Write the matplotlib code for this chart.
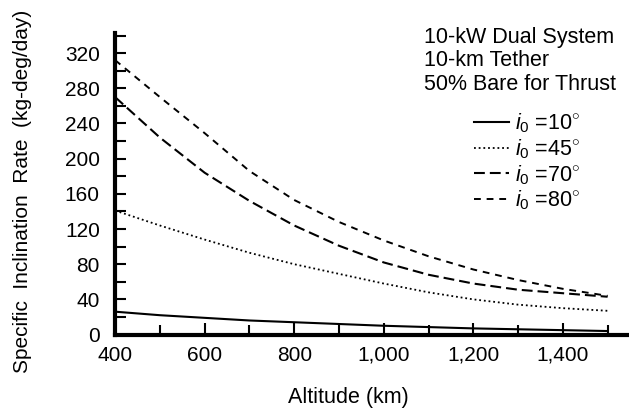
import matplotlib
matplotlib.use("Agg")
import matplotlib.pyplot as plt
from matplotlib.ticker import MultipleLocator

plt.rcParams['font.family'] = ['Liberation Sans', 'DejaVu Sans']
plt.rcParams['mathtext.fontset'] = 'custom'
plt.rcParams['mathtext.rm'] = 'Liberation Sans'
plt.rcParams['mathtext.it'] = 'Liberation Sans:italic'

# altitude (km)
altitude = [400, 500, 600, 700, 800, 900, 1000, 1100, 1200, 1300, 1400, 1500]

# specific inclination rate (kg-deg/day) for each initial inclination
rate_10 = [26, 22, 19, 16, 14, 12, 10, 8.5, 7, 6, 5, 4]
rate_45 = [141, 124, 108, 93, 80, 69, 58, 48, 40, 34, 30, 27]
rate_70 = [270, 224, 184, 152, 124, 101, 82, 68, 58, 51, 47, 43]
rate_80 = [312, 270, 229, 186, 153, 128, 107, 89, 74, 62, 52, 44]

x_ticks = [400, 600, 800, 1000, 1200, 1400]
x_labels = ['400', '600', '800', '1,000', '1,200', '1,400']
y_ticks = [0, 40, 80, 120, 160, 200, 240, 280, 320]

fig = plt.figure(figsize=(6.29, 4.11), dpi=100)
ax = fig.add_axes([0.183, 0.186, 0.815, 0.734])

ax.plot(altitude, rate_10, color='black', lw=1.5, ls='-', label=r'$\mathit{i}_{\mathit{0}}$ =10$^{\circ}$')
ax.plot(altitude, rate_45, color='black', lw=1.3, ls=(0, (1, 1.6)), label=r'$\mathit{i}_{\mathit{0}}$ =45$^{\circ}$')
ax.plot(altitude, rate_70, color='black', lw=1.5, ls=(0, (5.2, 2.4)), label=r'$\mathit{i}_{\mathit{0}}$ =70$^{\circ}$')
ax.plot(altitude, rate_80, color='black', lw=1.4, ls=(0, (3.5, 3)), label=r'$\mathit{i}_{\mathit{0}}$ =80$^{\circ}$')

ax.set_xlim(400, 1545)
ax.set_ylim(0, 343)

for s in ['top', 'right']:
    ax.spines[s].set_visible(False)
for s in ['left', 'bottom']:
    ax.spines[s].set_linewidth(3)

ax.set_xticks(x_ticks)
ax.set_xticklabels(x_labels)
ax.set_yticks(y_ticks)
ax.xaxis.set_minor_locator(MultipleLocator(100))
ax.yaxis.set_minor_locator(MultipleLocator(20))
ax.tick_params(axis='both', which='both', direction='in', width=1.5, labelsize=15)
ax.tick_params(axis='x', which='major', length=9, pad=8)
ax.tick_params(axis='x', which='minor', length=7)
ax.tick_params(axis='y', which='both', length=8, pad=11)

ax.set_xlabel('Altitude (km)', fontsize=15.5)
ax.xaxis.set_label_coords(0.456, -0.207)
ax.xaxis.label.set_va('center')
ax.set_ylabel('Specific  Inclination  Rate  (kg-deg/day)', fontsize=15)
ax.yaxis.set_label_coords(-0.181, 0.476)
ax.yaxis.label.set_va('center')

ax.text(0.603, 1.02, '10-kW Dual System\n10-km Tether\n50% Bare for Thrust',
        transform=ax.transAxes, fontsize=15.5, va='top', ha='left', linespacing=1.15)

leg = ax.legend(loc='upper left', bbox_to_anchor=(0.68, 0.775), frameon=False,
                fontsize=15.5, handlelength=1.6, handletextpad=0.3,
                labelspacing=0.1, borderpad=0)

fig.savefig('out.png', dpi=100)
